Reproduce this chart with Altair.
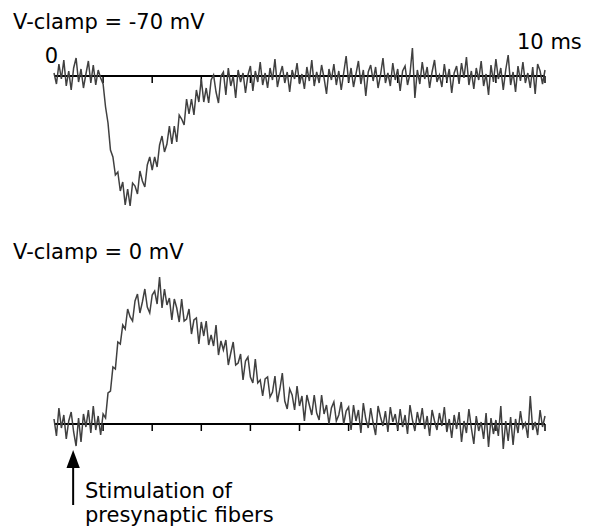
import altair as alt
import pandas as pd

# ---------------- data (arbitrary current units) ----------------
SAMPLE_MS = 0.05  # sampling step of the traces, 0 .. 10 ms

# V-clamp = -70 mV  (inward current, downward)
TOP_CURRENT = [
    3, -8, 12, -3, 16, -10, 5, -14, 8, 18, -6, 7, -12, 2, 15, -7, 11, -9, 6, -2,
    -8, -31, -47, -74, -81, -99, -96,
    -115, -106, -129, -113, -130, -107, -110, -118, -95, -105,
    -111, -89, -81, -94, -81, -91, -69, -60, -76, -68,
    -50, -68, -50, -66, -39, -43, -49, -23, -38, -23,
    -39, -14, -26, -3, -26, -12, -27, -4, 1, -16,
    -27, 0, 4, -19, 8, -10, 0, -22, 6, -6,
    3, -17, 1, 10,
    -15, 5, -6, 14, -9, 3, -12, 8, -4, 17, -11, 1, 10, -7, 4, -16, 6, -3, 13, -8,
    2, -13, 9, -5, 16, -10, 4, -7, 11, -2, -18, 7, -4, 12, -9, 5, -14, 3, 20, -6,
    8, -11, 2, 15, -8, 6, -20, 4, 11, -5, 9, -12, 1, 18, -7, 3, -10, 13, -4, 7,
    -15, 5, 10, -9, 2, 28, -22, 6, -8, 14, -3, 9, -12, 4, 16, -6, 1, -11, 12, -5,
    7, -17, 3, 10, -8, 13, -2, 19, -9, 5, -13, 8, -4, 15, -10, 2, -19, 11, -6, 17,
    -3, 8, -14, 6, 21, -9, 4, -16, 10, -5, 14, -7, 3, -12, 9, -18, 12, 5, -8, 6,
]

# V-clamp = 0 mV  (outward current, upward)
BOTTOM_CURRENT = [
    5, -12, 16, -4, 9, -15, 3, 12, -8, -22, 6, -18, 10, -3, 14, -9, 18, -6, 8, -11,
    10, 6, 31, 33, 57, 55, 82, 80,
    99, 95, 115, 107, 103, 123, 130, 111, 122, 135, 117, 111, 129, 133, 120, 147,
    116, 135, 119, 126, 104, 125, 116, 102, 125, 103,
    105, 115, 90, 104, 106, 80, 102, 88, 103, 79,
    89, 78, 99, 69, 83, 74, 84, 59, 71, 82,
    59, 61, 70, 44, 63, 67, 47, 41, 65, 41,
    44, 28, 45, 47, 27, 32, 48, 22, 35, 51,
    23, 15, 35, 29, 14, 38, 18, 28, 3, 29,
    19, 9, 29, 11, 4, 29, 10, 19, 0, 16,
    22, 3, 9, 22, 0, 13, 17,
    -6, 19, 3, 14, -9, 21, 5, -4, 16, 1, -11, 18, 7, -2, 13, -8, 17, 2, 10, -6,
    15, -3, 9, -10, 19, 4, -7, 12, 0, 16, -5, 8, -12, 14, 3, -6, 11, -2, 17, -8,
    5, -14, 9, -5, 12, -18, 3, -9, 15, -4, -20, 8, -7, 2, -15, 11, -23, 6, -10, 4,
    -12, 18, -25, 3, -17, 7, -21, 5, -9, 13, -4, 1, -14, 28, -6, 2, -11, 14, -3, 8,
]

TICK_MS = [1, 2, 3, 4, 5, 6, 7, 8, 9, 10]
AXIS_SPAN_MS = [0, 10]
TOP_TITLE = "V-clamp = -70 mV"
BOTTOM_TITLE = "V-clamp = 0 mV"
ZERO_LABEL = "0"
END_LABEL = "10 ms"
STIM_MS = 0.39
STIM_LINES = ["Stimulation of", "presynaptic fibers"]

# ---------------- tables ----------------
n = min(len(TOP_CURRENT), len(BOTTOM_CURRENT))
time_ms = [round(i * SAMPLE_MS, 2) for i in range(n)]
traces = pd.DataFrame({"t": time_ms, "top": TOP_CURRENT[:n], "bottom": BOTTOM_CURRENT[:n]})
ticks = pd.DataFrame({"t": TICK_MS})
span = pd.DataFrame({"t0": [AXIS_SPAN_MS[0]], "t1": [AXIS_SPAN_MS[1]]})
one = pd.DataFrame({"k": [0]})

FONT = "DejaVu Sans"
FS = 21
TRACE_COLOR = "#404040"

xs = alt.Scale(domain=[0, 10], nice=False, zero=False)
ys_top = alt.Scale(domain=[-455, 68], nice=False, zero=False)
ys_bot = alt.Scale(domain=[-107, 416], nice=False, zero=False)


def text_layer(label, x, y, ys, align="left", dx=0):
    return alt.Chart(one).mark_text(
        text=label, font=FONT, fontSize=FS, color="#000", align=align,
        baseline="alphabetic", dx=dx,
    ).encode(
        x=alt.XDatum(x, scale=xs, axis=None),
        y=alt.YDatum(y, scale=ys, axis=None),
    )


def panel(field, ys):
    axis_line = alt.Chart(span).mark_rule(color="black", strokeWidth=2).encode(
        x=alt.X("t0:Q", scale=xs, axis=None),
        x2="t1:Q",
        y=alt.YDatum(0, scale=ys, axis=None),
    )
    tick_marks = alt.Chart(ticks).mark_rule(color="black", strokeWidth=1.5).encode(
        x=alt.X("t:Q", scale=xs, axis=None),
        y=alt.YDatum(0, scale=ys, axis=None),
        y2=alt.Y2Datum(-7),
    )
    trace = alt.Chart(traces).mark_line(color=TRACE_COLOR, strokeWidth=1.5).encode(
        x=alt.X("t:Q", scale=xs, axis=None),
        y=alt.Y(f"{field}:Q", scale=ys, axis=None),
        order="t:Q",
    )
    return [axis_line, tick_marks, trace]


top = alt.layer(
    *panel("top", ys_top),
    text_layer(TOP_TITLE, -0.835, 46.7, ys_top),
    text_layer(ZERO_LABEL, 0, 13, ys_top, align="center", dx=-2.5),
    text_layer(END_LABEL, 10, 27.3, ys_top, align="left", dx=-28),
)

arrow_line = alt.Chart(one).mark_rule(color="black", strokeWidth=2).encode(
    x=alt.XDatum(STIM_MS, scale=xs, axis=None),
    y=alt.YDatum(-40, scale=ys_bot, axis=None),
    y2=alt.Y2Datum(-81),
)
arrow_head = alt.Chart(one).mark_point(
    shape="M0,-1L0.74,1L-0.74,1Z", filled=True, color="black", size=324, opacity=1,
).encode(
    x=alt.XDatum(STIM_MS, scale=xs, axis=None),
    y=alt.YDatum(-35, scale=ys_bot, axis=None),
)

bottom = alt.layer(
    *panel("bottom", ys_bot),
    text_layer(BOTTOM_TITLE, -0.835, 165, ys_bot),
    arrow_line,
    arrow_head,
    text_layer(STIM_LINES[0], 0.631, -74, ys_bot),
    text_layer(STIM_LINES[1], 0.631, -97.7, ys_bot),
)

chart = (
    alt.layer(top, bottom)
    .resolve_scale(y="independent")
    .properties(
        width=491,
        height=523,
        autosize=alt.AutoSizeParams(type="none"),
        padding={"left": 46, "top": 0, "right": 44, "bottom": 0},
        background="white",
    )
    .configure_view(stroke=None)
)

chart.save("out.html", embed_options={"renderer": "svg", "actions": False})
